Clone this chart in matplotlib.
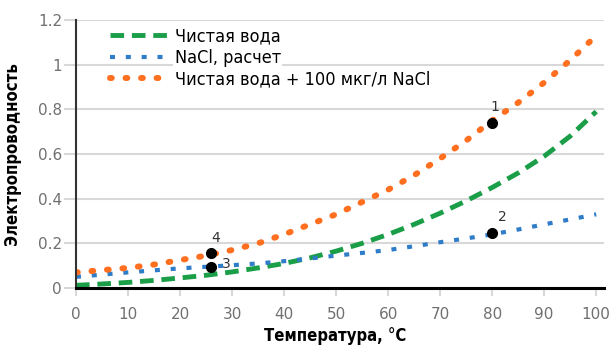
from matplotlib import pyplot as plt

temp = [0, 5, 10, 15, 20, 25, 30, 35, 40, 45, 50, 55, 60, 65, 70, 75, 80, 85, 90, 95, 100]
pure_water = [0.012, 0.018, 0.025, 0.034, 0.045, 0.057, 0.072, 0.09, 0.11, 0.135, 0.165,
              0.2, 0.24, 0.285, 0.335, 0.39, 0.45, 0.515, 0.59, 0.68, 0.79]
nacl_calc = [0.05, 0.06, 0.07, 0.079, 0.088, 0.095, 0.102, 0.11, 0.12, 0.132, 0.145,
             0.157, 0.17, 0.187, 0.205, 0.222, 0.24, 0.262, 0.285, 0.307, 0.33]
water_nacl = [0.07, 0.08, 0.09, 0.105, 0.125, 0.145, 0.17, 0.2, 0.24, 0.285, 0.33,
              0.385, 0.44, 0.505, 0.58, 0.66, 0.75, 0.83, 0.92, 1.02, 1.13]

pt_x = [80, 80, 26, 26]
pt_y = [0.74, 0.245, 0.095, 0.155]
pt_labels = ['1', '2', '3', '4']
pt_offsets = [(2, 11.5), (7, 11.5), (11, 2), (3, 11)]

legend_labels = ['Чистая вода', 'NaCl, расчет', 'Чистая вода + 100 мкг/л NaCl']

fig = plt.figure(figsize=(6.15, 3.49), dpi=100)
ax = fig.add_axes([76 / 615, 1 - 288 / 349, 528 / 615, 268 / 349])

ax.plot(temp, pure_water, color='#1a9e48', linewidth=3.5, linestyle=(0, (2.8, 1.6)), label=legend_labels[0])
ax.plot(temp, nacl_calc, color='#2f7cc8', linewidth=3, linestyle=(0, (1.2, 2.6)), label=legend_labels[1])
ax.plot(temp, water_nacl, color='#ff6f1f', linewidth=4.3, linestyle=(0, (0.3, 2.3)),
        dash_capstyle='round', label=legend_labels[2])

ax.plot(pt_x, pt_y, 'o', color='black', markersize=7, zorder=5)
for x, y, s, off in zip(pt_x, pt_y, pt_labels, pt_offsets):
    ax.annotate(s, (x, y), xytext=off, textcoords='offset points', fontsize=10,
                color='#333333', ha='center', va='center')

ax.set_xlim(0, 101.5)
ax.set_ylim(0, 1.2)
ax.set_xticks(range(0, 101, 10))
ax.set_yticks([0, 0.2, 0.4, 0.6, 0.8, 1, 1.2])
ax.set_yticklabels(['0', '0.2', '0.4', '0.6', '0.8', '1', '1.2'])

ax.grid(axis='y', color='#d8d8d8', linewidth=1.5)
ax.set_axisbelow(True)
for side in ['top', 'right']:
    ax.spines[side].set_visible(False)
ax.spines['left'].set_color('#333333')
ax.spines['left'].set_linewidth(1.5)
ax.spines['bottom'].set_color('black')
ax.spines['bottom'].set_linewidth(2.2)

ax.tick_params(axis='y', length=9, width=1.5, color='#d8d8d8', pad=1, labelsize=11, labelcolor='#707070')
ax.tick_params(axis='x', length=6, width=1.5, color='#d8d8d8', pad=8, labelsize=11, labelcolor='#707070')

ax.set_xlabel('Температура, °C', fontsize=12, fontweight='bold', fontstretch='condensed')
ax.xaxis.set_label_coords(0.49, -0.145)
ax.set_ylabel('Электропроводность', fontsize=12, fontweight='bold', fontstretch='condensed', labelpad=12)

leg = ax.legend(loc='upper left', bbox_to_anchor=(0.05, 1.0), frameon=False,
                prop={'size': 13, 'stretch': 'condensed'},
                handlelength=3.3, handletextpad=0.3, labelspacing=0.2, borderaxespad=0)
for text in leg.get_texts():
    text.set_bbox(dict(facecolor='white', edgecolor='none', pad=1))

plt.savefig('out.png', dpi=100)
